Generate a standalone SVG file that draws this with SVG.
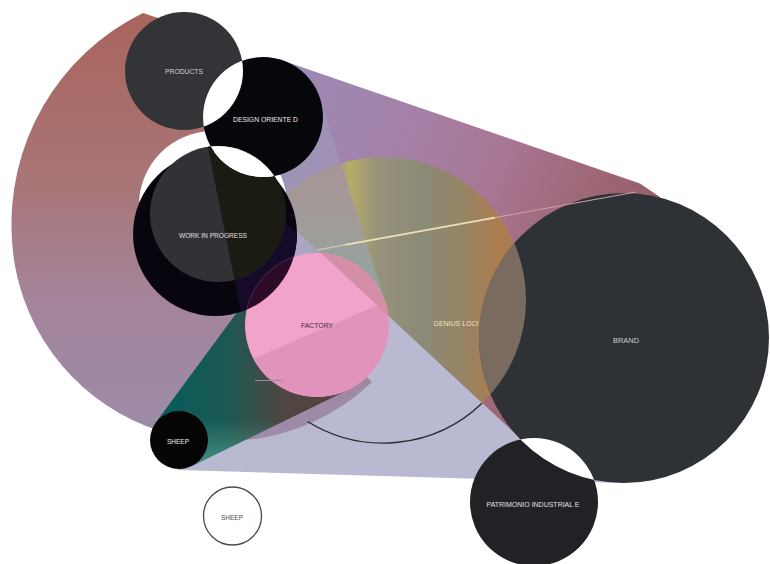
<svg xmlns="http://www.w3.org/2000/svg" width="770" height="564" viewBox="0 0 770 564">
<defs>
<style>
.lbl{font-family:"Liberation Sans",Arial,sans-serif;font-size:8px;text-anchor:middle;}
.lt{fill:#e0e0e0}
</style>
<linearGradient id="gBig" gradientUnits="userSpaceOnUse" x1="0" y1="15" x2="0" y2="430">
<stop offset="0" stop-color="#a9645d"/><stop offset="0.4" stop-color="#a87576"/><stop offset="0.7" stop-color="#a4859b"/><stop offset="1" stop-color="#9d8ba9"/>
</linearGradient>
<linearGradient id="gDB" gradientUnits="userSpaceOnUse" x1="290" y1="90" x2="640" y2="240">
<stop offset="0" stop-color="#9c8bb5"/><stop offset="0.35" stop-color="#a57fa6"/><stop offset="0.6" stop-color="#a87592"/><stop offset="0.85" stop-color="#9c6672"/><stop offset="1" stop-color="#93606a"/>
</linearGradient>
<linearGradient id="gTeal" gradientUnits="userSpaceOnUse" x1="175" y1="0" x2="285" y2="0">
<stop offset="0" stop-color="#0b5b59"/><stop offset="0.45" stop-color="#1b5954"/><stop offset="1" stop-color="#504541"/>
</linearGradient>
<linearGradient id="gTealLow" gradientUnits="userSpaceOnUse" x1="0" y1="472" x2="0" y2="420">
<stop offset="0" stop-color="#52a08c" stop-opacity="0.9"/><stop offset="1" stop-color="#52a08c" stop-opacity="0"/>
</linearGradient>
<linearGradient id="gGen" gradientUnits="userSpaceOnUse" x1="340" y1="0" x2="526" y2="0">
<stop offset="0" stop-color="#a59a86"/><stop offset="0.05" stop-color="#b6ac68"/><stop offset="0.2" stop-color="#97927a"/><stop offset="0.45" stop-color="#8b8a77"/><stop offset="0.65" stop-color="#968466"/><stop offset="0.85" stop-color="#ac7d4f"/><stop offset="1" stop-color="#a47a5c"/>
</linearGradient>
<linearGradient id="gGenDF" gradientUnits="userSpaceOnUse" x1="0" y1="160" x2="0" y2="295">
<stop offset="0" stop-color="#a89496"/><stop offset="0.5" stop-color="#a09c9a"/><stop offset="1" stop-color="#90a69e"/>
</linearGradient>
<linearGradient id="gDFb" gradientUnits="userSpaceOnUse" x1="295" y1="0" x2="385" y2="0">
<stop offset="0" stop-color="#aca6c2"/><stop offset="1" stop-color="#96a6a8"/>
</linearGradient>
<clipPath id="cpDB"><polygon points="282.5,60.4 640,183.4 660,197 624,338 522,440 222,161 263,117"/></clipPath>
<clipPath id="cpDF"><polygon points="204.2,128.8 320.1,98.7 385.6,303 246.4,339.2"/></clipPath>
<clipPath id="cpBelow"><polygon points="-214,-237 890,778.5 -214,778.5"/></clipPath>
<clipPath id="cpSB"><polygon points="155,427 160,398.6 560,227 624,338 621,483 178,470"/></clipPath>
<clipPath id="cpTeal"><polygon points="155.6,422.8 259,282.3 317,325 348.5,389.7 191.7,466.1 179,440"/></clipPath>
<clipPath id="cpBlack"><circle cx="215" cy="234" r="82"/></clipPath>
<clipPath id="cpGrey"><circle cx="218" cy="214" r="68"/></clipPath>
<clipPath id="cpProducts"><circle cx="184" cy="71" r="59"/></clipPath>
<clipPath id="cpBrand"><circle cx="624" cy="338" r="145"/></clipPath>
</defs>
<rect width="770" height="564" fill="#ffffff"/>

<g id="connectors">
<polygon id="cone-sheep-brand" points="155,427 160,398.6 560,227 624,338 621,483 178,470" fill="#b9b9d2"/>
<polygon id="cone-design-factory" points="204.2,128.8 320.1,98.7 385.6,303 246.4,339.2" fill="url(#gDFb)"/>
<path id="cone-products" d="M143,13 L200,32 L205,120 L215,200 L280,290 L330,340 L372,382 A213,213 0 0 1 12,240 A235,235 0 0 1 143,13 Z" fill="url(#gBig)"/>
<polygon id="cone-design-brand" points="282.5,60.4 640,183.4 660,197 624,338 522,440 222,161 263,117" fill="url(#gDB)"/>
<g clip-path="url(#cpDB)"><polygon points="204.2,128.8 320.1,98.7 385.6,303 246.4,339.2" fill="#9cb0c0" fill-opacity="0.3"/></g>
<polygon id="cone-sheep-factory" points="155.6,422.8 259,282.3 317,325 348.5,389.7 191.7,466.1 179,440" fill="url(#gTeal)"/>
<g clip-path="url(#cpTeal)"><rect x="140" y="380" width="240" height="100" fill="url(#gTealLow)"/></g>
</g>

<g id="node-genius-loci">
<g clip-path="url(#cpDB)"><circle cx="383" cy="300" r="143" fill="url(#gGen)"/>
<g clip-path="url(#cpDF)"><circle cx="383" cy="300" r="143" fill="url(#gGenDF)"/></g></g>
<path d="M307.5,421.5 A143,143 0 0 0 482,403.2" fill="none" stroke="#2a2a30" stroke-width="1.4"/>
</g>

<g id="node-work-in-progress">
<circle cx="213" cy="205" r="74" fill="#ffffff"/>
<circle cx="215" cy="234" r="82" fill="#08050e"/>
<g clip-path="url(#cpBlack)"><g clip-path="url(#cpDF)"><g clip-path="url(#cpBelow)"><rect x="130" y="140" width="180" height="190" fill="#150a28"/></g></g></g>
<circle cx="218" cy="214" r="68" fill="#303236"/>
<g clip-path="url(#cpGrey)"><g clip-path="url(#cpDF)"><rect x="140" y="140" width="160" height="150" fill="#1b1b14"/></g></g>
<text class="lbl lt" x="213" y="237.5" textLength="68" lengthAdjust="spacingAndGlyphs">WORK IN PROGRESS</text>
</g>

<g id="node-products">
<circle cx="184" cy="71" r="59" fill="#323438"/>
<text class="lbl" fill="#d2d2d2" x="184" y="74" textLength="38" lengthAdjust="spacingAndGlyphs">PRODUCTS</text>
</g>

<g id="node-design-oriented">
<circle cx="263" cy="117" r="60" fill="#06070a"/>
<circle cx="263" cy="117" r="60" fill="#ffffff" clip-path="url(#cpProducts)"/>
<circle cx="263" cy="117" r="60" fill="#ffffff" clip-path="url(#cpBlack)"/>
<circle cx="263" cy="117" r="60" fill="#ffffff" clip-path="url(#cpGrey)"/>
<text class="lbl" fill="#ececec" x="265.5" y="122" textLength="65" lengthAdjust="spacingAndGlyphs">DESIGN ORIENTE D</text>
</g>

<g id="node-factory">
<circle cx="317" cy="325" r="72" fill="#f2a3ca"/>
<circle cx="317" cy="325" r="72" fill="#e293bc" clip-path="url(#cpSB)"/>
<circle cx="317" cy="325" r="72" fill="#d58ea8" clip-path="url(#cpDB)"/>
<circle cx="317" cy="325" r="72" fill="#2c0a28" clip-path="url(#cpBlack)"/>
<text class="lbl" fill="#3a2a3a" x="317" y="328" textLength="32" lengthAdjust="spacingAndGlyphs">FACTORY</text>
</g>

<g id="node-brand">
<circle cx="624" cy="338" r="145" fill="#2e3135"/>
<circle cx="383" cy="300" r="143" fill="#a8907a" fill-opacity="0.62" clip-path="url(#cpBrand)"/>
<text class="lbl" fill="#d0d0d0" x="626" y="343" textLength="26" lengthAdjust="spacingAndGlyphs">BRAND</text>
</g>

<g id="node-patrimonio-industriale">
<circle cx="534" cy="502" r="64" fill="#202226"/>
<circle cx="534" cy="502" r="64" fill="#ffffff" clip-path="url(#cpBrand)"/>
<text class="lbl lt" x="533" y="507" textLength="93" lengthAdjust="spacingAndGlyphs">PATRIMONIO INDUSTRIAL E</text>
</g>

<g id="node-sheep">
<circle cx="179" cy="440" r="29" fill="#050505"/>
<text class="lbl" fill="#f0f0f0" x="178" y="444" textLength="22" lengthAdjust="spacingAndGlyphs">SHEEP</text>
</g>

<g id="node-sheep-2">
<circle cx="232.5" cy="516" r="29" fill="#ffffff" stroke="#4a4a4a" stroke-width="1.3"/>
<text class="lbl" fill="#4a4a4a" x="232" y="519.5" textLength="22" lengthAdjust="spacingAndGlyphs">SHEEP</text>
</g>

<g id="connector-lines">
<line x1="317" y1="250" x2="345" y2="244.9" stroke="#d8d4c0" stroke-opacity="0.75" stroke-width="1.3"/>
<line x1="345" y1="244.9" x2="495" y2="217.6" stroke="#ece2b8" stroke-width="1.9"/>
<line x1="495" y1="217.6" x2="636" y2="192" stroke="#caa2a4" stroke-width="1.2"/>
<line x1="255" y1="380.5" x2="283" y2="380.5" stroke="#9a8e92" stroke-width="1"/>
</g>
<g id="label-genius"><text class="lbl" fill="#f0e2c0" x="456" y="326" textLength="45" lengthAdjust="spacingAndGlyphs">GENIUS LOCI</text></g>
</svg>
